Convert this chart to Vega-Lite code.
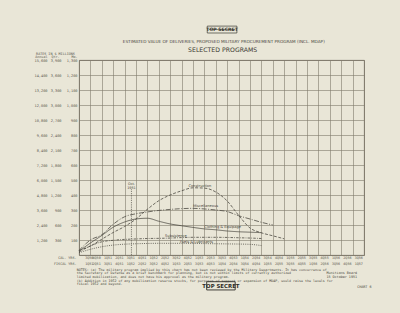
{
  "$schema": "https://vega.github.io/schema/vega-lite/v6.json",
  "width": 285,
  "height": 195,
  "autosize": "none",
  "padding": {"left": 79, "top": 60, "right": 36, "bottom": 58},
  "background": "#e9e6d7",
  "config": {
    "font": "DejaVu Sans",
    "view": {"stroke": "#6f6a5c", "strokeWidth": 0.9},
    "axis": {"labelColor": "#5a574e", "titleColor": "#5a574e", "titleFontWeight": "normal", "labelFont": "DejaVu Sans Mono", "titleFont": "DejaVu Sans Mono"}
  },
  "datasets": {
    "series": [
      {"series": "Construction", "q": 0, "v": 30}, {"series": "Construction", "q": 1, "v": 60}, {"series": "Construction", "q": 2, "v": 105}, {"series": "Construction", "q": 3, "v": 150}, {"series": "Construction", "q": 4, "v": 190}, {"series": "Construction", "q": 5, "v": 240}, {"series": "Construction", "q": 6, "v": 305}, {"series": "Construction", "q": 7, "v": 362}, {"series": "Construction", "q": 8, "v": 400}, {"series": "Construction", "q": 9, "v": 428}, {"series": "Construction", "q": 10, "v": 448}, {"series": "Construction", "q": 11, "v": 446}, {"series": "Construction", "q": 12, "v": 420}, {"series": "Construction", "q": 13, "v": 360}, {"series": "Construction", "q": 14, "v": 265}, {"series": "Construction", "q": 15, "v": 180}, {"series": "Construction", "q": 16, "v": 148}, {"series": "Construction", "q": 17, "v": 128}, {"series": "Construction", "q": 18, "v": 108},
      {"series": "Miscellaneous", "q": 0, "v": 30}, {"series": "Miscellaneous", "q": 1, "v": 100}, {"series": "Miscellaneous", "q": 2, "v": 135}, {"series": "Miscellaneous", "q": 3, "v": 205}, {"series": "Miscellaneous", "q": 4, "v": 255}, {"series": "Miscellaneous", "q": 5, "v": 275}, {"series": "Miscellaneous", "q": 6, "v": 287}, {"series": "Miscellaneous", "q": 7, "v": 297}, {"series": "Miscellaneous", "q": 8, "v": 304}, {"series": "Miscellaneous", "q": 9, "v": 309}, {"series": "Miscellaneous", "q": 10, "v": 311}, {"series": "Miscellaneous", "q": 11, "v": 307}, {"series": "Miscellaneous", "q": 12, "v": 300}, {"series": "Miscellaneous", "q": 13, "v": 290}, {"series": "Miscellaneous", "q": 14, "v": 262}, {"series": "Miscellaneous", "q": 15, "v": 240}, {"series": "Miscellaneous", "q": 16, "v": 218}, {"series": "Miscellaneous", "q": 17, "v": 200},
      {"series": "Clothing & Equipage", "q": 0, "v": 25}, {"series": "Clothing & Equipage", "q": 1, "v": 80}, {"series": "Clothing & Equipage", "q": 2, "v": 130}, {"series": "Clothing & Equipage", "q": 3, "v": 185}, {"series": "Clothing & Equipage", "q": 4, "v": 220}, {"series": "Clothing & Equipage", "q": 5, "v": 240}, {"series": "Clothing & Equipage", "q": 6, "v": 245}, {"series": "Clothing & Equipage", "q": 7, "v": 225}, {"series": "Clothing & Equipage", "q": 8, "v": 207}, {"series": "Clothing & Equipage", "q": 9, "v": 195}, {"series": "Clothing & Equipage", "q": 10, "v": 184}, {"series": "Clothing & Equipage", "q": 11, "v": 174}, {"series": "Clothing & Equipage", "q": 12, "v": 168}, {"series": "Clothing & Equipage", "q": 13, "v": 160}, {"series": "Clothing & Equipage", "q": 14, "v": 155}, {"series": "Clothing & Equipage", "q": 15, "v": 152}, {"series": "Clothing & Equipage", "q": 16, "v": 149},
      {"series": "Subsistence", "q": 0, "v": 20}, {"series": "Subsistence", "q": 1, "v": 60}, {"series": "Subsistence", "q": 2, "v": 88}, {"series": "Subsistence", "q": 3, "v": 98}, {"series": "Subsistence", "q": 4, "v": 104}, {"series": "Subsistence", "q": 5, "v": 107}, {"series": "Subsistence", "q": 6, "v": 110}, {"series": "Subsistence", "q": 7, "v": 111}, {"series": "Subsistence", "q": 8, "v": 113}, {"series": "Subsistence", "q": 9, "v": 116}, {"series": "Subsistence", "q": 10, "v": 118}, {"series": "Subsistence", "q": 11, "v": 118}, {"series": "Subsistence", "q": 12, "v": 118}, {"series": "Subsistence", "q": 13, "v": 117}, {"series": "Subsistence", "q": 14, "v": 115}, {"series": "Subsistence", "q": 15, "v": 113}, {"series": "Subsistence", "q": 16, "v": 110},
      {"series": "Fuels & Lubricants", "q": 0, "v": 15}, {"series": "Fuels & Lubricants", "q": 1, "v": 38}, {"series": "Fuels & Lubricants", "q": 2, "v": 55}, {"series": "Fuels & Lubricants", "q": 3, "v": 66}, {"series": "Fuels & Lubricants", "q": 4, "v": 72}, {"series": "Fuels & Lubricants", "q": 5, "v": 75}, {"series": "Fuels & Lubricants", "q": 6, "v": 77}, {"series": "Fuels & Lubricants", "q": 7, "v": 78}, {"series": "Fuels & Lubricants", "q": 8, "v": 78}, {"series": "Fuels & Lubricants", "q": 9, "v": 78}, {"series": "Fuels & Lubricants", "q": 10, "v": 77}, {"series": "Fuels & Lubricants", "q": 11, "v": 76}, {"series": "Fuels & Lubricants", "q": 12, "v": 75}, {"series": "Fuels & Lubricants", "q": 13, "v": 74}, {"series": "Fuels & Lubricants", "q": 14, "v": 73}, {"series": "Fuels & Lubricants", "q": 15, "v": 71}, {"series": "Fuels & Lubricants", "q": 16, "v": 63}
    ],
    "labels": [
      {"series": "Construction", "lx": 10.6, "ly": 462},
      {"series": "Miscellaneous", "lx": 11.1, "ly": 325},
      {"series": "Clothing & Equipage", "lx": 12.6, "ly": 185},
      {"series": "Subsistence", "lx": 8.5, "ly": 130},
      {"series": "Fuels & Lubricants", "lx": 10.3, "ly": 84}
    ],
    "one": [{}]
  },
  "resolve": {"axis": {"x": "independent", "y": "independent"}},
  "layer": [
    {
      "data": {"name": "series"},
      "mark": {"type": "line", "interpolate": "monotone", "strokeWidth": 0.8, "color": "#4d4a42"},
      "encoding": {
        "x": {"field": "q", "type": "quantitative",
          "scale": {"domain": [0, 25], "nice": false, "zero": false},
          "axis": {"orient": "bottom", "values": [0,1,2,3,4,5,6,7,8,9,10,11,12,13,14,15,16,17,18,19,20,21,22,23,24,25],
            "labelExpr": "datum.value >= 25 ? '' : ((datum.value + 2) % 4 + 1) + 'Q' + (50 + floor((datum.value + 2) / 4))",
            "labelOffset": 5.7, "labelFontSize": 3.4, "labelPadding": 0.8, "labelOverlap": false, "labelBound": false,
            "grid": true, "gridColor": "#7f7a6b", "gridWidth": 0.6, "ticks": false, "domain": false,
            "title": "CAL. YRS.", "titleFontSize": 3.4, "titleX": -3, "titleY": 2.6, "titleAlign": "right", "titleBaseline": "middle"}},
        "y": {"field": "v", "type": "quantitative",
          "scale": {"domain": [0, 1300], "nice": false},
          "axis": {"orient": "left", "values": [0,100,200,300,400,500,600,700,800,900,1000,1100,1200,1300],
            "labelExpr": "datum.value == 0 ? '' : format(datum.value, ',')",
            "labelFontSize": 3.6, "labelPadding": 2, "labelOverlap": false,
            "grid": true, "gridColor": "#7f7a6b", "gridWidth": 0.6, "ticks": false, "domain": false,
            "title": "Mo.", "titleFontSize": 3.4, "titleAngle": 0, "titleX": -2, "titleY": -5.4, "titleAlign": "right", "titleBaseline": "top"}},
        "strokeDash": {"field": "series", "type": "nominal",
          "scale": {"domain": ["Construction", "Miscellaneous", "Clothing & Equipage", "Subsistence", "Fuels & Lubricants"],
            "range": [[3, 1.6], [5, 1.5, 1, 1.5], [1, 0], [2.5, 1.2, 0.8, 1.2], [1, 1.2]]},
          "legend": null}
      }
    },
    {
      "data": {"name": "labels"},
      "mark": {"type": "text", "fontSize": 3.6, "color": "#4a4740", "align": "center", "baseline": "middle"},
      "encoding": {
        "x": {"field": "lx", "type": "quantitative",
          "scale": {"domain": [0, 25], "nice": false, "zero": false},
          "axis": {"orient": "bottom", "offset": 6, "values": [0,1,2,3,4,5,6,7,8,9,10,11,12,13,14,15,16,17,18,19,20,21,22,23,24,25],
            "labelExpr": "datum.value >= 25 ? '' : (datum.value % 4 + 1) + 'Q' + (51 + floor(datum.value / 4))",
            "labelOffset": 5.7, "labelFontSize": 3.4, "labelPadding": 0.8, "labelOverlap": false, "labelBound": false,
            "grid": false, "ticks": false, "domain": false,
            "title": "FISCAL YRS.", "titleFontSize": 3.4, "titleX": -3, "titleY": 2.6, "titleAlign": "right", "titleBaseline": "middle"}},
        "y": {"field": "ly", "type": "quantitative",
          "scale": {"domain": [0, 1300], "nice": false},
          "axis": {"orient": "left", "offset": 16, "values": [100,200,300,400,500,600,700,800,900,1000,1100,1200,1300],
            "labelExpr": "format(datum.value * 3, ',')",
            "labelFontSize": 3.6, "labelPadding": 2, "labelOverlap": false,
            "grid": false, "ticks": false, "domain": false,
            "title": ["RATES IN $ MILLIONS", "Qtr."], "titleFontSize": 3.4, "titleLineHeight": 3.4, "titleAngle": 0, "titleX": -8, "titleY": -8.8, "titleAlign": "center", "titleBaseline": "top"}},
        "text": {"field": "series"}
      }
    },
    {
      "data": {"name": "one"},
      "mark": {"type": "rule", "strokeDash": [0.8, 1], "strokeWidth": 0.8, "color": "#4d4a42"},
      "encoding": {
        "x": {"datum": 4.6, "type": "quantitative", "scale": {"domain": [0, 25], "nice": false, "zero": false}, "axis": null},
        "y": {"datum": 0, "type": "quantitative", "scale": {"domain": [0, 1300], "nice": false},
          "axis": {"orient": "left", "offset": 30, "values": [100,200,300,400,500,600,700,800,900,1000,1100,1200,1300],
            "labelExpr": "format(datum.value * 12, ',')",
            "labelFontSize": 3.6, "labelPadding": 2, "labelOverlap": false,
            "grid": false, "ticks": false, "domain": false,
            "title": "Annual", "titleFontSize": 3.4, "titleAngle": 0, "titleX": -2, "titleY": -5.4, "titleAlign": "right", "titleBaseline": "top"}},
        "y2": {"datum": 440}
      }
    },
    {
      "data": {"name": "one"},
      "mark": {"type": "text", "fontSize": 3.4, "color": "#4a4740", "align": "center", "baseline": "middle", "lineBreak": "\n", "lineHeight": 3.6},
      "encoding": {
        "x": {"datum": 4.6, "type": "quantitative", "scale": {"domain": [0, 25], "nice": false, "zero": false}, "axis": null},
        "y": {"datum": 472, "type": "quantitative", "scale": {"domain": [0, 1300], "nice": false}, "axis": null},
        "text": {"value": "Oct.\n1951"}
      }
    },
    {
      "data": {"name": "one"},
      "mark": {"type": "text", "fontSize": 4.6, "fontWeight": "bold", "color": "#3b3932", "align": "center", "baseline": "middle"},
      "encoding": {
        "x": {"datum": 12.55, "type": "quantitative", "scale": {"domain": [0, 25], "nice": false, "zero": false}, "axis": null},
        "y": {"datum": 1503, "type": "quantitative", "scale": {"domain": [0, 1300], "nice": false}, "axis": null},
        "text": {"value": "TOP SECRET"}
      }
    },
    {
      "data": {"name": "one"},
      "mark": {"type": "rect", "fill": null, "stroke": "#3b3932", "strokeWidth": 0.7},
      "encoding": {
        "x": {"datum": 11.25, "type": "quantitative", "scale": {"domain": [0, 25], "nice": false, "zero": false}, "axis": null},
        "x2": {"datum": 13.85},
        "y": {"datum": 1480, "type": "quantitative", "scale": {"domain": [0, 1300], "nice": false}, "axis": null},
        "y2": {"datum": 1526}
      }
    },
    {
      "data": {"name": "one"},
      "mark": {"type": "rule", "stroke": "#3b3932", "strokeWidth": 0.6},
      "encoding": {
        "x": {"datum": 11.4, "type": "quantitative", "scale": {"domain": [0, 25], "nice": false, "zero": false}, "axis": null},
        "x2": {"datum": 13.7},
        "y": {"datum": 1503, "type": "quantitative", "scale": {"domain": [0, 1300], "nice": false}, "axis": null}
      }
    },
    {
      "data": {"name": "one"},
      "mark": {"type": "text", "fontSize": 4.2, "letterSpacing": 0.4, "color": "#4a4740", "align": "center", "baseline": "middle"},
      "encoding": {
        "x": {"datum": 12.7, "type": "quantitative", "scale": {"domain": [0, 25], "nice": false, "zero": false}, "axis": null},
        "y": {"datum": 1420, "type": "quantitative", "scale": {"domain": [0, 1300], "nice": false}, "axis": null},
        "text": {"value": "ESTIMATED VALUE OF DELIVERIES, PROPOSED MILITARY PROCUREMENT PROGRAM (INCL. MDAP)"}
      }
    },
    {
      "data": {"name": "one"},
      "mark": {"type": "text", "fontSize": 6.2, "color": "#3b3932", "align": "center", "baseline": "middle", "letterSpacing": 0.4},
      "encoding": {
        "x": {"datum": 12.6, "type": "quantitative", "scale": {"domain": [0, 25], "nice": false, "zero": false}, "axis": null},
        "y": {"datum": 1368, "type": "quantitative", "scale": {"domain": [0, 1300], "nice": false}, "axis": null},
        "text": {"value": "SELECTED PROGRAMS"}
      }
    },
    {
      "data": {"name": "one"},
      "mark": {"type": "text", "font": "DejaVu Sans Mono", "fontSize": 3.3, "color": "#4a4740", "align": "left", "baseline": "top", "lineBreak": "\n", "lineHeight": 3.6},
      "encoding": {
        "x": {"datum": -0.2, "type": "quantitative", "scale": {"domain": [0, 25], "nice": false, "zero": false}, "axis": null},
        "y": {"datum": -85, "type": "quantitative", "scale": {"domain": [0, 1300], "nice": false}, "axis": null},
        "text": {"value": "NOTES: (a) The military program implied by this chart has not been reviewed by the Military Departments. It has concurrence of\n           the Secretary of Defense as a brief benchmark for planning, but is not within limits of currently authorized\n           limited mobilization, and does not have his approval as the military program.\n\n       (b) Addition in 1952 of any mobilization reserve stocks, for purposes of support or expansion of MDAP, would raise the levels for\n           fiscal 1952 and beyond."}
      }
    },
    {
      "data": {"name": "one"},
      "mark": {"type": "text", "font": "DejaVu Sans Mono", "fontSize": 3.4, "color": "#4a4740", "align": "left", "baseline": "top", "lineBreak": "\n", "lineHeight": 4},
      "encoding": {
        "x": {"datum": 21.7, "type": "quantitative", "scale": {"domain": [0, 25], "nice": false, "zero": false}, "axis": null},
        "y": {"datum": -108, "type": "quantitative", "scale": {"domain": [0, 1300], "nice": false}, "axis": null},
        "text": {"value": "Munitions Board\n15 October 1951"}
      }
    },
    {
      "data": {"name": "one"},
      "mark": {"type": "text", "font": "DejaVu Sans Mono", "fontSize": 3.4, "color": "#4a4740", "align": "left", "baseline": "middle"},
      "encoding": {
        "x": {"datum": 24.4, "type": "quantitative", "scale": {"domain": [0, 25], "nice": false, "zero": false}, "axis": null},
        "y": {"datum": -210, "type": "quantitative", "scale": {"domain": [0, 1300], "nice": false}, "axis": null},
        "text": {"value": "CHART 6"}
      }
    },
    {
      "data": {"name": "one"},
      "mark": {"type": "rect", "fill": null, "stroke": "#2f2d28", "strokeWidth": 0.9},
      "encoding": {
        "x": {"datum": 11.2, "type": "quantitative", "scale": {"domain": [0, 25], "nice": false, "zero": false}, "axis": null},
        "x2": {"datum": 13.7},
        "y": {"datum": -178, "type": "quantitative", "scale": {"domain": [0, 1300], "nice": false}, "axis": null},
        "y2": {"datum": -233}
      }
    },
    {
      "data": {"name": "one"},
      "mark": {"type": "text", "fontSize": 5.4, "fontWeight": "bold", "color": "#2f2d28", "align": "center", "baseline": "middle"},
      "encoding": {
        "x": {"datum": 12.45, "type": "quantitative", "scale": {"domain": [0, 25], "nice": false, "zero": false}, "axis": null},
        "y": {"datum": -206, "type": "quantitative", "scale": {"domain": [0, 1300], "nice": false}, "axis": null},
        "text": {"value": "TOP SECRET"}
      }
    }
  ]
}
